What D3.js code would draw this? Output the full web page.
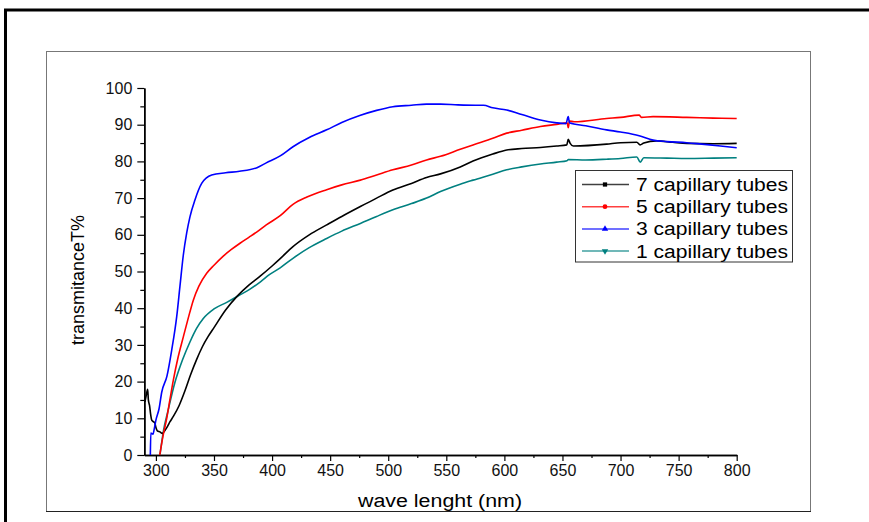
<!DOCTYPE html>
<html>
<head>
<meta charset="utf-8">
<script src="https://cdn.jsdelivr.net/npm/d3@7"></script>
<style>
  body { margin: 0; background: #fff; }
  svg { display: block; font-family: Arial, "Liberation Sans", sans-serif; }
</style>
</head>
<body>
<div id="chart"></div>
<script>
// data: [wavelength nm, transmittance %]
var seriesNames = ["7 capillary tubes", "5 capillary tubes", "3 capillary tubes", "1 capillary tubes"];
var seriesColors = ["#000000", "#ff0000", "#0000ff", "#008080"];
var seriesMarkers = ["square", "circle", "triangleUp", "triangleDown"];

var tubes7 = [[290.6,14.5],[291.5,16],[292.9,17.9],[293.5,15],[294.5,13.5],[295.5,11],[296.4,9.5],[297.7,9.1],
  [299,8.8],[300,7.5],[301.2,6.6],[303.5,6.3],[305.5,5.9],[308,6.8],[310,7.8],[312,9],[315,10.5],[320,13.5],
  [325,17.5],[330,22],[335,26],[340,29.5],[345,32.3],[350,34.7],[360,39.5],[370,43.3],[380,46.3],[390,48.8],
  [400,51.5],[407,53.5],[418,56.8],[432,60],[447,62.7],[460,65],[476,67.7],[490,70],[504,72.2],[520,74],
  [533,75.6],[545,76.6],[562,78.5],[573,80.1],[590,82],[602,83.1],[615,83.5],[631,83.8],[645,84.2],
  [653.7,84.5],[655,86],[656.5,85],[659.4,84.2],[688,84.7],[700,85.1],[714,85.2],[716.8,84.5],[720,85],
  [731,85.6],[745,85.2],[757,84.9],[780,84.8],[800,84.9]];

var tubes5 = [[303.3,0],[306,5],[309.3,10],[312,15],[315,20.4],[319,26.5],[323.6,32.2],[328,37.5],[332.2,42.2],
  [337,46],[343.7,49.5],[350,51.7],[358,54.2],[365,56],[372.4,57.7],[380,59.3],[387,60.8],[395,62.7],[407,65.2],
  [418,68.3],[430,70.3],[447,72.3],[460,73.6],[476,74.9],[490,76.3],[504,77.7],[520,79],[533,80.4],[545,81.4],
  [562,83.3],[573,84.5],[590,86.3],[602,87.7],[615,88.5],[631,89.5],[645,90.1],[654,90.5],[655,89.2],[656,91],
  [660,90.8],[688,91.7],[700,92],[716,92.6],[718,92],[728,92.2],[757,92],[780,91.8],[800,91.7]];

var tubes3 = [[295.2,0],[295.6,6],[297.5,5.7],[298.5,7],[300,9.5],[302.7,12.6],[305,17.1],[309.5,21.5],[313.6,28.6],
  [317.9,37.7],[320.7,46],[323.6,54.5],[326.5,60.5],[329.3,64.9],[333.6,69.5],[339.4,74],[348,76.3],[360,76.9],
  [372,77.3],[387,78.3],[395,79.6],[407,81.5],[418,84],[432,86.5],[447,88.6],[460,90.6],[475.5,92.5],[490,93.9],
  [504,94.9],[520,95.3],[533,95.6],[545,95.6],[560,95.4],[575,95.3],[582,95.3],[590,94.6],[602,94],[615,92.8],
  [631,91.3],[645,90.5],[653,90.3],[655,92.2],[656,90.5],[670,89.7],[688,88.6],[700,88],[716,87],[728,85.8],
  [740,85.4],[757,85.1],[770,84.7],[786,84.2],[800,83.7]];

var tubes1 = [[303.5,0],[306.6,6.8],[310,11.5],[316.4,19.8],[323,26],[329.3,30.8],[335,34.5],[340.8,37.2],[350,39.8],
  [361,41.6],[371,43.4],[381,45.2],[390,47.2],[398,49.2],[407,51],[418,53.6],[432,56.5],[447,59],[460,61],
  [476,63.1],[490,65],[504,66.8],[520,68.5],[533,70],[545,71.8],[562,73.8],[573,74.9],[590,76.5],[602,77.7],
  [615,78.5],[631,79.3],[645,79.8],[654,80.2],[655,80.5],[670,80.4],[688,80.6],[700,80.8],[714,81.2],[717,79.8],
  [720,81],[740,80.9],[757,80.8],[780,80.9],[800,81]];

var allSeries = [tubes7, tubes5, tubes3, tubes1];

var xTicks = [300, 350, 400, 450, 500, 550, 600, 650, 700, 750, 800];
var xMinor = [325, 375, 425, 475, 525, 575, 625, 675, 725, 775];
var yTicks = [0, 10, 20, 30, 40, 50, 60, 70, 80, 90, 100];
var yMinor = [5, 15, 25, 35, 45, 55, 65, 75, 85, 95];

//setup
var width = 869,
    height = 522;

var svg = d3.select("#chart").append("svg")
    .attr("width", width)
    .attr("height", height);

var x = d3.scaleLinear().domain([290, 800]).range([144.3, 736.7]);
var y = d3.scaleLinear().domain([0, 100]).range([455, 88]);

// frames
svg.append("path")
    .attr("d", "M5.5,522 V10 H869")
    .attr("fill", "none")
    .attr("stroke", "#000")
    .attr("stroke-width", 3);

svg.append("rect")
    .attr("x", 46.5).attr("y", 51.5)
    .attr("width", 764).attr("height", 460)
    .attr("fill", "none")
    .attr("stroke", "#777")
    .attr("stroke-width", 1);

svg.append("line")
    .attr("x1", 46).attr("x2", 811)
    .attr("y1", 511.5).attr("y2", 511.5)
    .attr("stroke", "#222");

// axes
function styleAxis(g) {
    g.selectAll("path.domain").attr("stroke", "#000").attr("stroke-width", 1.5);
    g.selectAll(".tick line").attr("stroke", "#000").attr("stroke-width", 1.2);
    g.selectAll(".tick text").attr("font-size", 16).attr("fill", "#111")
        .attr("font-family", "Arial, 'Liberation Sans', sans-serif");
}

svg.append("g")
    .attr("transform", "translate(0," + y(0) + ")")
    .call(d3.axisBottom(x).tickValues(xMinor).tickSize(3).tickSizeOuter(0).tickFormat(""))
    .call(styleAxis);

svg.append("g")
    .attr("transform", "translate(0," + y(0) + ")")
    .call(d3.axisBottom(x).tickValues(xTicks).tickSize(6).tickSizeOuter(0).tickPadding(4))
    .call(styleAxis);

svg.append("g")
    .attr("transform", "translate(" + x(290) + ",0)")
    .call(d3.axisLeft(y).tickValues(yMinor).tickSize(4).tickSizeOuter(0).tickFormat(""))
    .call(styleAxis);

svg.append("g")
    .attr("transform", "translate(" + x(290) + ",0)")
    .call(d3.axisLeft(y).tickValues(yTicks).tickSize(7).tickSizeOuter(0).tickPadding(5))
    .call(styleAxis);

// axis titles
svg.append("text")
    .attr("x", 358).attr("y", 507)
    .attr("font-size", 18)
    .attr("textLength", 164)
    .attr("lengthAdjust", "spacingAndGlyphs")
    .text("wave lenght (nm)");

svg.append("text")
    .attr("transform", "translate(84,280) rotate(-90)")
    .attr("text-anchor", "middle")
    .attr("font-size", 18)
    .text("transmitanceT%");

// curves
var line = d3.line()
    .curve(d3.curveMonotoneX)
    .x(function (d) { return x(d[0]); })
    .y(function (d) { return y(d[1]); });

var drawOrder = [3, 0, 1, 2];
drawOrder.forEach(function (i) {
    svg.append("path")
        .datum(allSeries[i])
        .attr("d", line)
        .attr("fill", "none")
        .attr("stroke", seriesColors[i])
        .attr("stroke-width", 1.6)
        .attr("stroke-linejoin", "round");
});

// legend
var legend = svg.append("g");
legend.append("rect")
    .attr("x", 575.5).attr("y", 170.5)
    .attr("width", 217).attr("height", 91.5)
    .attr("fill", "#fff")
    .attr("stroke", "#333");

var symbolTypes = {
    square: d3.symbolSquare,
    circle: d3.symbolCircle,
    triangleUp: d3.symbolTriangle,
    triangleDown: d3.symbolTriangle
};

seriesNames.forEach(function (name, i) {
    var cy = 184.5 + i * 22.2;
    legend.append("line")
        .attr("x1", 582).attr("x2", 629)
        .attr("y1", cy).attr("y2", cy)
        .attr("stroke", seriesColors[i])
        .attr("stroke-opacity", 0.75)
        .attr("stroke-width", 1.5);
    legend.append("path")
        .attr("d", d3.symbol().type(symbolTypes[seriesMarkers[i]]).size(18))
        .attr("transform", "translate(605," + cy + ")" + (seriesMarkers[i] === "triangleDown" ? " rotate(180)" : ""))
        .attr("fill", seriesColors[i]);
    legend.append("text")
        .attr("x", 636).attr("y", cy + 6.5)
        .attr("font-size", 18)
        .attr("textLength", 152)
        .attr("lengthAdjust", "spacingAndGlyphs")
        .text(name);
});
</script>
</body>
</html>
